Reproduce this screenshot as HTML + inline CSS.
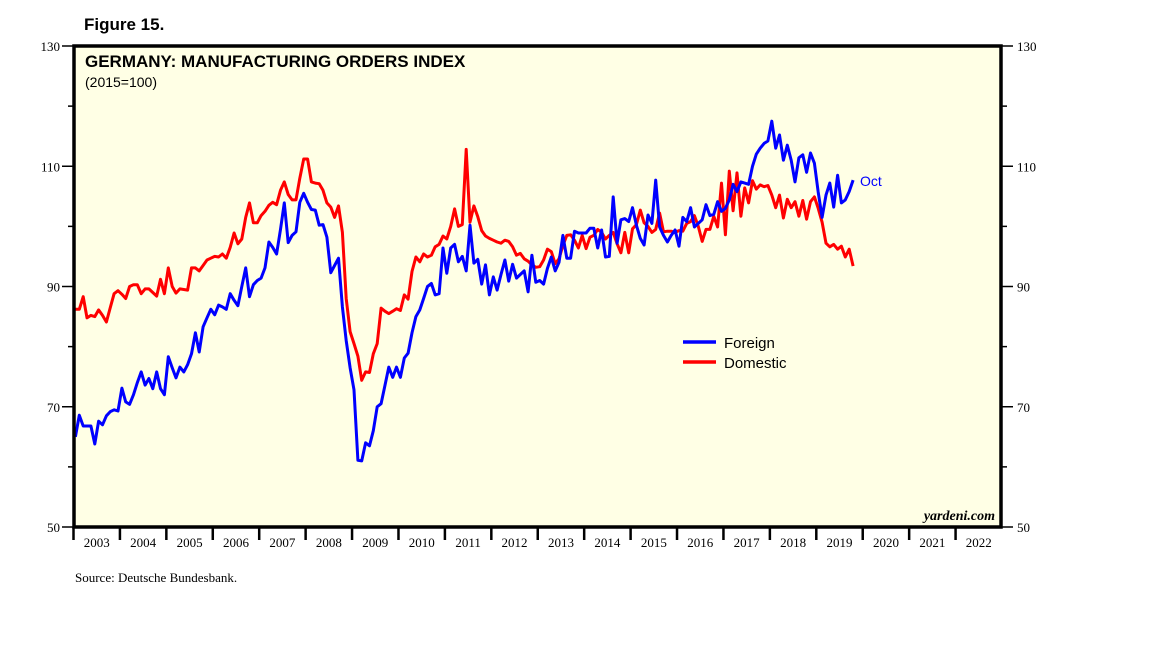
<!DOCTYPE html>
<html><head><meta charset="utf-8"><style>
body{margin:0;background:#fff;width:1152px;height:648px;overflow:hidden}
svg text{font-family:"Liberation Serif",serif}
</style></head><body>
<svg id="chart" width="1152" height="648" xmlns="http://www.w3.org/2000/svg">
<text x="84" y="30" style="font-family:'Liberation Sans',sans-serif;font-weight:bold;font-size:17px">Figure 15.</text>
<rect x="74" y="46" width="927" height="481" fill="#FFFFE5"/>
<g id="grid"></g>
<g id="series"></g>
<rect x="74" y="46" width="927" height="481" fill="none" stroke="#000" stroke-width="3.5"/>
<text x="85" y="67" style="font-family:'Liberation Sans',sans-serif;font-weight:bold;font-size:17px">GERMANY: MANUFACTURING ORDERS INDEX</text>
<text x="85" y="87" style="font-family:'Liberation Sans',sans-serif;font-size:14px">(2015=100)</text>
<line x1="683" y1="342" x2="716" y2="342" stroke="#0000FF" stroke-width="3.5"/>
<text x="724" y="348" style="font-family:'Liberation Sans',sans-serif;font-size:15px">Foreign</text>
<line x1="683" y1="362" x2="716" y2="362" stroke="#FF0000" stroke-width="3.5"/>
<text x="724" y="368" style="font-family:'Liberation Sans',sans-serif;font-size:15px">Domestic</text>
<text x="860" y="186" fill="#0000FF" style="font-family:'Liberation Sans',sans-serif;font-size:14px">Oct</text>
<text x="995" y="520" text-anchor="end" style="font-style:italic;font-weight:bold;font-size:14px">yardeni.com</text>
<text x="75" y="582" style="font-size:13px">Source: Deutsche Bundesbank.</text>
</svg>
<script>
const yTicks=[50,70,90,110,130];
const years=[2003,2004,2005,2006,2007,2008,2009,2010,2011,2012,2013,2014,2015,2016,2017,2018,2019,2020,2021,2022];
const foreign=[65,68.6,66.8,66.8,66.8,63.8,67.6,67,68.5,69.2,69.5,69.3,
73.1,70.8,70.4,72,74,75.8,73.6,74.7,73,75.8,73,72,
78.3,76.5,74.8,76.6,75.8,77,78.8,82.3,79.1,83.3,84.8,86.2,
85.3,86.9,86.6,86.2,88.8,87.7,86.8,90,93.1,88.3,90.3,91,
91.4,93.1,97.4,96.5,95.4,99.5,103.9,97.3,98.5,99.1,104,105.5,
104,102.8,102.7,100.2,100.3,98.2,92.3,93.5,94.7,86.6,81,76.5,
72.8,61.1,61,64,63.5,66,70,70.5,73.5,76.6,74.9,76.6,
74.9,78.1,78.9,82.3,85,86.1,88,90,90.5,88.6,88.8,96.4,
92.2,96.4,97,94.1,95,92.6,100.2,93.9,94.5,90.4,93.6,88.6,
91.6,89.4,92,94.4,90.9,93.7,91.4,92,92.6,89.1,95.2,90.7,
91,90.4,93,94.9,92.6,94,98.5,94.7,94.7,99.2,98.9,98.9,
98.9,99.7,99.7,96.4,99.4,94.9,95,104.9,97.2,101.1,101.3,100.8,
103.1,100.2,98,96.9,101.9,100.5,107.7,99.9,98.5,97.4,98.5,99.4,
96.7,101.5,100.8,103.1,99.9,100.5,101.1,103.6,101.8,102,104.1,102.5,
103,104.4,107,105.8,107.4,107.2,107,110,112,113,113.8,114.2,
117.5,113,115.2,111,113.5,111,107.4,111.4,111.9,109,112.2,110.5,
105.7,101.5,105.2,107.2,103.2,108.5,103.9,104.4,105.8,107.7];
const domestic=[86.2,86.2,88.3,84.8,85.2,85,86.1,85.2,84.1,86.5,88.8,89.3,
88.7,88,90,90.3,90.3,88.8,89.6,89.6,89,88.4,91.2,88.8,
93.1,90,88.9,89.6,89.5,89.4,93.1,93.1,92.6,93.5,94.4,94.7,
95,94.9,95.4,94.7,96.5,98.9,97.1,97.9,101.5,103.9,100.6,100.6,
101.8,102.5,103.5,104,103.6,106,107.4,105.3,104.4,104.4,108,111.2,
111.2,107.4,107.2,107.1,106,103.9,103.2,101.5,103.4,99,88,82.5,
80.5,78.4,74.4,75.8,75.7,78.8,80.5,86.4,85.9,85.5,85.9,86.3,
86,88.6,87.9,92.5,94.9,94.1,95.4,94.9,95.2,96.6,97,98.4,
97.9,100,102.9,100,100.3,112.8,100.7,103.4,101.6,99.3,98.4,98,
97.7,97.4,97.2,97.7,97.5,96.6,95.2,95.5,94.6,94.2,93.6,93.2,
93.3,94.4,96.2,95.8,93.8,94.6,96.8,98.5,98.6,97.7,96.4,98.5,
96.3,98.2,98.5,99.5,99,97.9,98.5,99,97.1,95.6,99,95.6,
99.6,100.3,102.7,100.6,100,99,99.5,102.2,99.1,99.2,99.2,99,
99.3,99.2,100.5,100.8,101.8,100,97.5,99.5,99.5,101.7,99.9,107.2,
98.6,109.2,102.6,108.9,101.7,106.4,103.9,107.6,106.2,106.9,106.6,106.8,
105.2,103.1,105.2,101.4,104.5,103.1,104.1,101.7,104.3,101.2,104.1,104.9,
103,100.7,97.2,96.6,97,96.2,96.7,94.9,96.2,93.4];

const NS="http://www.w3.org/2000/svg";
const X0=73.5,X1=1002,Y0=527,Y1=46,VMIN=50,VMAX=130;
const yearW=(X1-X0)/years.length;
function yScale(v){return Y0-(v-VMIN)/(VMAX-VMIN)*(Y0-Y1);}
function xMonth(i){return X0+(i+0.5)*yearW/12;}
function mk(tag,attrs,parent){const e=document.createElementNS(NS,tag);for(const k in attrs)e.setAttribute(k,attrs[k]);parent.appendChild(e);return e;}
const svg=document.getElementById('chart');
for(let v=VMIN;v<=VMAX;v+=10){
  const y=yScale(v);
  const major=yTicks.indexOf(v)>=0;
  const len=major?11:5;
  const t1=mk('line',{x1:73-len,y1:y,x2:73,y2:y,stroke:'#000','stroke-width':1.5},svg);
  
  
  const t2=mk('line',{x1:1002,y1:y,x2:1002+len,y2:y,stroke:'#000','stroke-width':1.5},svg);
  
  
}
yTicks.forEach(v=>{
  const y=yScale(v);
  const l=mk('text',{x:60,y:y+5,'text-anchor':'end','font-size':13},svg);l.textContent=v;
  
  
  const r=mk('text',{x:1017,y:y+5,'font-size':13},svg);r.textContent=v;
  
  
});
years.forEach((yr,k)=>{
  const x=X0+k*yearW;
  const t=mk('line',{x1:x,y1:527,x2:x,y2:540,stroke:'#000','stroke-width':2.5},svg);
  
  
  const l=mk('text',{x:x+yearW/2,y:547,'text-anchor':'middle','font-size':13},svg);l.textContent=yr;
  
  
});
const ser=document.getElementById('series');
function line(data,color,name){
  const pts=data.map((v,i)=>xMonth(i).toFixed(1)+','+yScale(v).toFixed(1)).join(' ');
  const p=mk('polyline',{points:pts,fill:'none',stroke:color,'stroke-width':3,'stroke-linejoin':'round'},ser);
  
  
}
line(domestic,'#FF0000','domestic-line');
line(foreign,'#0000FF','foreign-line');
</script>
</body></html>
